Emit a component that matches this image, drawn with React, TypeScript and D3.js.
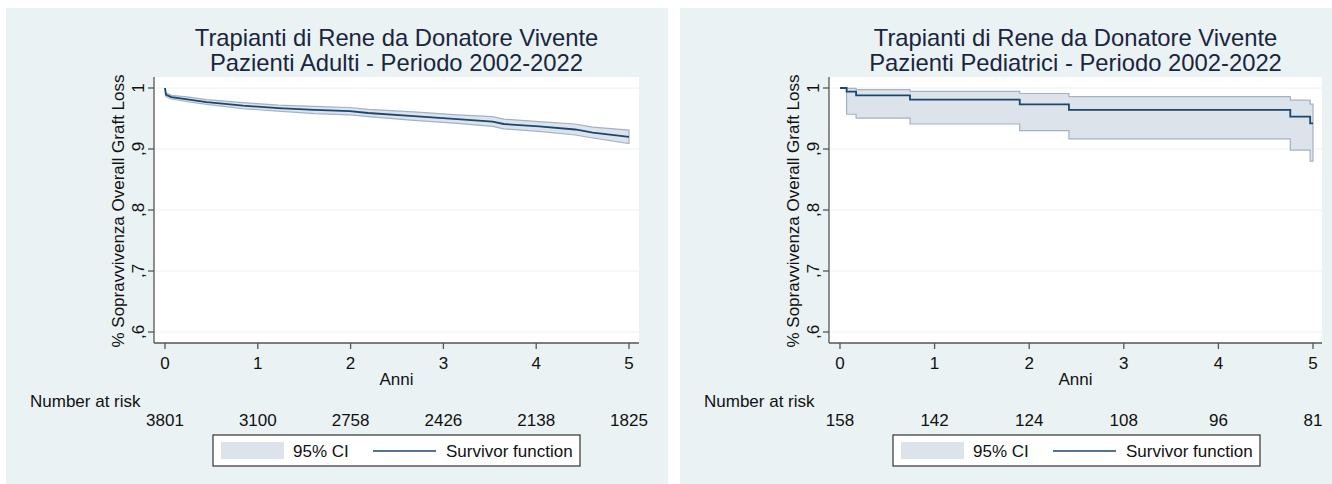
import React from 'react';
import * as d3 from 'd3';

// --- data ---
const yTicks = [0.6, 0.7, 0.8, 0.9, 1];
const xTicks = [0, 1, 2, 3, 4, 5];

// adults: Kaplan-Meier survivor function + 95% CI
const adultTime = [0, 0.01, 0.07, 0.26, 0.45, 0.84, 1.22, 1.61, 1.99, 2.19, 2.68, 3.15, 3.53, 3.65, 4.03, 4.42, 4.61, 5.0];
const adultSurv = [1, 0.989, 0.985, 0.981, 0.977, 0.971, 0.967, 0.964, 0.962, 0.959, 0.954, 0.949, 0.945, 0.941, 0.937, 0.932, 0.927, 0.920];
const adultLo = [1, 0.986, 0.982, 0.977, 0.973, 0.966, 0.962, 0.958, 0.956, 0.953, 0.947, 0.942, 0.937, 0.933, 0.929, 0.923, 0.918, 0.909];
const adultHi = [1, 0.992, 0.988, 0.985, 0.981, 0.976, 0.972, 0.970, 0.968, 0.965, 0.961, 0.956, 0.953, 0.949, 0.945, 0.941, 0.936, 0.931];
const adultAtRisk = [3801, 3100, 2758, 2426, 2138, 1825];

// pediatric
const pedTime = [0, 0.07, 0.17, 0.74, 1.90, 2.42, 4.76, 4.97, 5.0];
const pedSurv = [1, 0.994, 0.988, 0.981, 0.973, 0.964, 0.953, 0.942, 0.942];
const pedCiTime = [0.07, 0.17, 0.74, 1.90, 2.42, 4.76, 4.97, 5.0];
const pedLo = [0.957, 0.9505, 0.941, 0.930, 0.9165, 0.898, 0.880, 0.880];
const pedHi = [0.9995, 0.9973, 0.9945, 0.991, 0.9857, 0.980, 0.9736, 0.9736];
const pedAtRisk = [158, 142, 124, 108, 96, 81];

const FONT = '"Liberation Sans", Arial, Helvetica, sans-serif';
const BG = '#eaf2f3';
const NAVY = '#1a476f';
const CI_FILL = '#dde3ea';
const CI_EDGE = '#a3b2c4';
const TXT = '#111';
const FS = 17;

type PanelProps = {
  left: number;
  width: number;
  axisX: number;
  plotRight: number;
  x0: number;
  x5: number;
  legendX: number;
  title: string[];
  time: number[];
  surv: number[];
  ciTime: number[];
  lo: number[];
  hi: number[];
  atRisk: number[];
  step: boolean;
};

function Panel(p: PanelProps) {
  const plotTop = 77;
  const plotBottom = 343;
  const x = d3.scaleLinear().domain([0, 5]).range([p.x0, p.x5]);
  const y = d3.scaleLinear().domain([0.6, 1]).range([332, 88]);
  const curve = p.step ? d3.curveStepAfter : d3.curveLinear;

  const ciRows = p.ciTime.map((t, i) => ({ t, lo: p.lo[i], hi: p.hi[i] }));
  const area = d3.area<{ t: number; lo: number; hi: number }>()
    .x(d => x(d.t)).y0(d => y(d.lo)).y1(d => y(d.hi)).curve(curve);
  const survRows = p.time.map((t, i) => ({ t, s: p.surv[i] }));
  const line = d3.line<{ t: number; s: number }>()
    .x(d => x(d.t)).y(d => y(d.s)).curve(curve);

  const cx = (p.axisX + p.plotRight) / 2;
  const lx = p.legendX;

  return (
    <g>
      <rect x={p.left} y={8} width={p.width} height={476} fill={BG} />
      <text x={cx} y={46} textAnchor="middle" fontSize={23.8} fill="#1a2540">{p.title[0]}</text>
      <text x={cx} y={71} textAnchor="middle" fontSize={23.8} fill="#1a2540">{p.title[1]}</text>

      <rect x={p.axisX} y={plotTop} width={p.plotRight - p.axisX} height={plotBottom - plotTop} fill="#fff" />
      {yTicks.map(v => (
        <line key={v} x1={p.axisX} x2={p.plotRight} y1={y(v)} y2={y(v)} stroke={BG} strokeWidth={1} />
      ))}

      <path d={area(ciRows) || ''} fill={CI_FILL} stroke={CI_EDGE} strokeWidth={1.2} />
      <path d={line(survRows) || ''} fill="none" stroke={NAVY} strokeWidth={1.8} />

      {/* axes */}
      <line x1={p.axisX} x2={p.axisX} y1={plotTop} y2={plotBottom} stroke="#555" strokeWidth={1.3} />
      <line x1={p.axisX} x2={p.plotRight} y1={plotBottom} y2={plotBottom} stroke="#555" strokeWidth={1.3} />
      {yTicks.map(v => (
        <g key={v}>
          <line x1={p.axisX - 6} x2={p.axisX} y1={y(v)} y2={y(v)} stroke="#555" strokeWidth={1.3} />
          <text transform={`translate(${p.axisX - 10},${y(v)}) rotate(-90)`} textAnchor="middle" fontSize={FS} fill={TXT}>
            {v === 1 ? '1' : String(v).replace('0.', ',')}
          </text>
        </g>
      ))}
      {xTicks.map(v => (
        <g key={v}>
          <line x1={x(v)} x2={x(v)} y1={plotBottom} y2={plotBottom + 6} stroke="#555" strokeWidth={1.3} />
          <text x={x(v)} y={369} textAnchor="middle" fontSize={FS} fill={TXT}>{v}</text>
        </g>
      ))}
      <text transform={`translate(${p.axisX - 30},${(plotTop + plotBottom) / 2 + 1}) rotate(-90)`} textAnchor="middle" fontSize={FS} fill={TXT}>
        % Sopravvivenza Overall Graft Loss
      </text>
      <text x={cx} y={385} textAnchor="middle" fontSize={FS} fill={TXT}>Anni</text>

      <text x={p.left + 24} y={407} fontSize={FS} fill={TXT}>Number at risk</text>
      {p.atRisk.map((n, i) => (
        <text key={i} x={x(xTicks[i])} y={426} textAnchor="middle" fontSize={FS} fill={TXT}>{n}</text>
      ))}

      {/* legend */}
      <rect x={lx} y={435} width={367} height={31} fill="#fff" stroke="#333" strokeWidth={1.2} />
      <rect x={lx + 8} y={442} width={63} height={17} fill={CI_FILL} />
      <text x={lx + 80} y={457} fontSize={FS} fill={TXT}>95% CI</text>
      <line x1={lx + 160} x2={lx + 223} y1={451} y2={451} stroke={NAVY} strokeWidth={1.5} />
      <text x={lx + 233} y={457} fontSize={FS} fill={TXT}>Survivor function</text>
    </g>
  );
}

export default function App() {
  return (
    <svg width={1332} height={484} style={{ position: 'absolute', left: 0, top: 0, fontFamily: FONT }}>
      <rect width={1332} height={484} fill="#fff" />
      <Panel
        left={6} width={662} axisX={154} plotRight={639} x0={165} x5={629} legendX={213}
        title={['Trapianti di Rene da Donatore Vivente', 'Pazienti Adulti - Periodo 2002-2022']}
        time={adultTime} surv={adultSurv} ciTime={adultTime} lo={adultLo} hi={adultHi}
        atRisk={adultAtRisk} step={false}
      />
      <Panel
        left={680} width={652} axisX={829} plotRight={1322} x0={840} x5={1313} legendX={893}
        title={['Trapianti di Rene da Donatore Vivente', 'Pazienti Pediatrici - Periodo 2002-2022']}
        time={pedTime} surv={pedSurv} ciTime={pedCiTime} lo={pedLo} hi={pedHi}
        atRisk={pedAtRisk} step={true}
      />
    </svg>
  );
}
